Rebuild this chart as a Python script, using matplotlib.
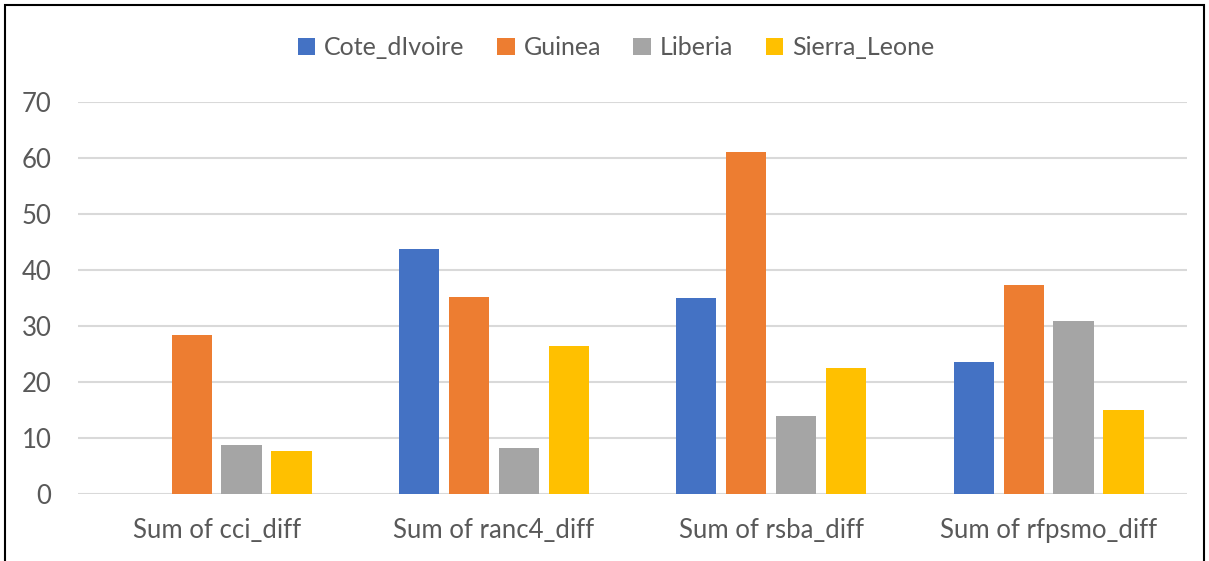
import numpy as np
import matplotlib.pyplot as plt
from matplotlib.patches import Rectangle

categories = ['Sum of cci_diff', 'Sum of ranc4_diff', 'Sum of rsba_diff', 'Sum of rfpsmo_diff']
series = ['Cote_dIvoire', 'Guinea', 'Liberia', 'Sierra_Leone']
cote = [0, 43.8, 35.0, 23.6]
guinea = [28.4, 35.2, 61.0, 37.3]
liberia = [8.8, 8.2, 13.9, 30.9]
sierra = [7.6, 26.4, 22.5, 15.0]
colors = ['#4472C4', '#ED7D31', '#A5A5A5', '#FFC000']

plt.rcParams['font.family'] = ['Lato', 'DejaVu Sans']

fig = plt.figure(figsize=(12.09, 5.61), dpi=100)
ax = fig.add_axes([0.0645, 0.1194, 0.9175, 0.6986])

x = np.arange(len(categories))
width = 0.145
step = 0.18
for i, (name, vals) in enumerate(zip(series, [cote, guinea, liberia, sierra])):
    ax.bar(x + (i - 1.5) * step, vals, width, color=colors[i], label=name, zorder=3)

ax.set_xlim(-0.5, 3.5)
ax.set_ylim(0, 70)
ax.set_yticks(range(0, 71, 10))
ax.set_xticks(x)
ax.set_xticklabels(categories)
ax.grid(axis='y', color='#d9d9d9', linewidth=1.5, zorder=0)
ax.tick_params(axis='both', length=0, labelsize=18.5, labelcolor='#595959')
ax.tick_params(axis='x', pad=17)
ax.tick_params(axis='y', pad=19)
for s in ax.spines.values():
    s.set_visible(False)

ax.legend(loc='upper center', bbox_to_anchor=(0.485, 1.225), ncol=4, frameon=False,
          fontsize=18, labelcolor='#595959', handlelength=0.7, handleheight=0.7,
          handletextpad=0.35, columnspacing=1.3)

# outer chart frame
fig.patches.append(Rectangle((5 / 1209, -0.05), 1 - 10 / 1209, 1.05 - 5 / 561,
                             transform=fig.transFigure, fill=False,
                             edgecolor='black', linewidth=1.5))

fig.savefig('out.png', dpi=100)
